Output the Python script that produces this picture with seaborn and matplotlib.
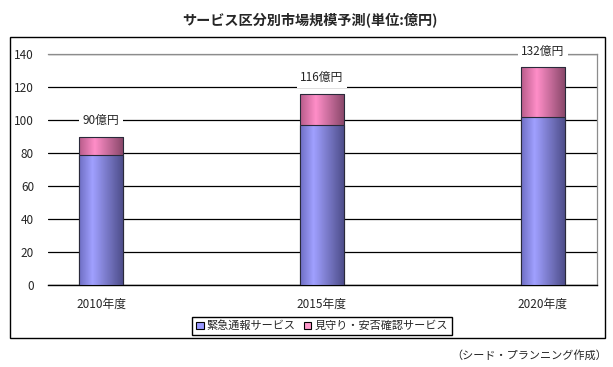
import numpy as np
import pandas as pd
import seaborn as sns
import matplotlib.pyplot as plt
from matplotlib.colors import LinearSegmentedColormap
from matplotlib.patches import Rectangle

# data (億円)
years = ["2010年度", "2015年度", "2020年度"]
emergency = [79, 97, 102]      # 緊急通報サービス
watch = [11, 19, 30]           # 見守り・安否確認サービス
totals = [90, 116, 132]
yticks = [0, 20, 40, 60, 80, 100, 120, 140]

series_names = ["緊急通報サービス", "見守り・安否確認サービス"]
title = "サービス区分別市場規模予測(単位:億円)"
source = "（シード・プランニング作成）"

blue = "#9999FF"
pink = "#FF99CC"
blue_cmap = LinearSegmentedColormap.from_list("b", [(0, "#6F6FC4"), (0.3, "#A0A0FF"), (1, "#4C4C88")])
pink_cmap = LinearSegmentedColormap.from_list("p", [(0, "#B85C8A"), (0.35, "#FF8EC8"), (1, "#874668")])


def gradient_fill(ax, patch, cmap, z):
    x0, y0 = patch.get_x(), patch.get_y()
    w, h = patch.get_width(), patch.get_height()
    grad = np.linspace(0, 1, 64).reshape(1, -1)
    im = ax.imshow(grad, extent=[x0, x0 + w, y0, y0 + h], aspect="auto",
                   cmap=cmap, zorder=z, origin="lower")
    im.set_clip_path(patch)
    patch.set_facecolor("none")
    patch.set_edgecolor("#2a2a3a")
    patch.set_linewidth(0.8)
    patch.set_zorder(z + 0.1)


def main():
    sns.set_style("white")
    plt.rcParams["font.family"] = ["Noto Sans CJK JP", "DejaVu Sans"]

    df = pd.DataFrame({"year": years, "emergency": emergency, "total": totals})

    fig = plt.figure(figsize=(6.13, 3.67), dpi=100)
    ax = fig.add_axes([48 / 613, 1 - 285 / 367, (597 - 48) / 613, (285 - 54) / 367])

    sns.barplot(data=df, x="year", y="total", color=pink, width=0.2, ax=ax, saturation=1)
    n_pink = len(ax.patches)
    sns.barplot(data=df, x="year", y="emergency", color=blue, width=0.2, ax=ax, saturation=1)

    patches = list(ax.patches)
    for p in patches[:n_pink]:
        gradient_fill(ax, p, pink_cmap, 3)
    for p in patches[n_pink:]:
        gradient_fill(ax, p, blue_cmap, 4)

    xlim = (-0.24, 2.245)
    ax.set_xlim(*xlim)
    ax.set_ylim(0, 140)
    ax.set_yticks(yticks)
    ax.set_xlabel("")
    ax.set_ylabel("")

    ax.set_axisbelow(True)
    ax.grid(axis="y", color="black", linewidth=0.9)
    ax.grid(axis="x", visible=False)

    for side in ["top", "right", "left"]:
        ax.spines[side].set_color("#8c8c8c")
        ax.spines[side].set_linewidth(0.9)
    ax.spines["left"].set_visible(False)
    ax.spines["bottom"].set_color("black")
    ax.spines["bottom"].set_linewidth(1.0)

    ax.set_xticks(np.linspace(xlim[0], xlim[1], 6)[1:-1], minor=True)
    ax.tick_params(axis="x", which="minor", length=3, width=0.8, color="black", direction="out")
    ax.tick_params(axis="x", which="major", length=0, pad=9, labelsize=8.5)
    ax.tick_params(axis="y", length=0, pad=10, labelsize=8.5)

    # total labels sit a little above each bar, breaking the gridline behind them
    for i, t in enumerate(totals):
        ax.text(i, t + 9.5, f"{t}億円", ha="center", va="center", fontsize=8.5,
                zorder=6, bbox=dict(facecolor="white", edgecolor="none", pad=2.5))

    fig.text(310 / 613, 1 - 20 / 367, title, ha="center", va="center",
             fontsize=10.2, fontweight="bold")

    handles = [Rectangle((0, 0), 1, 1, facecolor=blue, edgecolor="black", linewidth=0.8),
               Rectangle((0, 0), 1, 1, facecolor=pink, edgecolor="black", linewidth=0.8)]
    leg = fig.legend(handles, series_names, loc="center", ncol=2,
                     bbox_to_anchor=(322 / 613, 1 - 326 / 367), fontsize=8,
                     frameon=True, fancybox=False, edgecolor="black", framealpha=1,
                     handlelength=0.7, handleheight=0.7, handletextpad=0.3,
                     columnspacing=0.7, borderpad=0.3, borderaxespad=0)
    leg.get_frame().set_linewidth(1.0)

    fig.patches.append(Rectangle((10 / 613, 1 - 338 / 367), (605 - 10) / 613, (338 - 37) / 367,
                                 transform=fig.transFigure, fill=False,
                                 edgecolor="black", linewidth=1.0, zorder=0))

    fig.text(607 / 613, 1 - 355 / 367, source, ha="right", va="center", fontsize=8)

    fig.savefig("out.png", dpi=100)


if __name__ == "__main__":
    main()
